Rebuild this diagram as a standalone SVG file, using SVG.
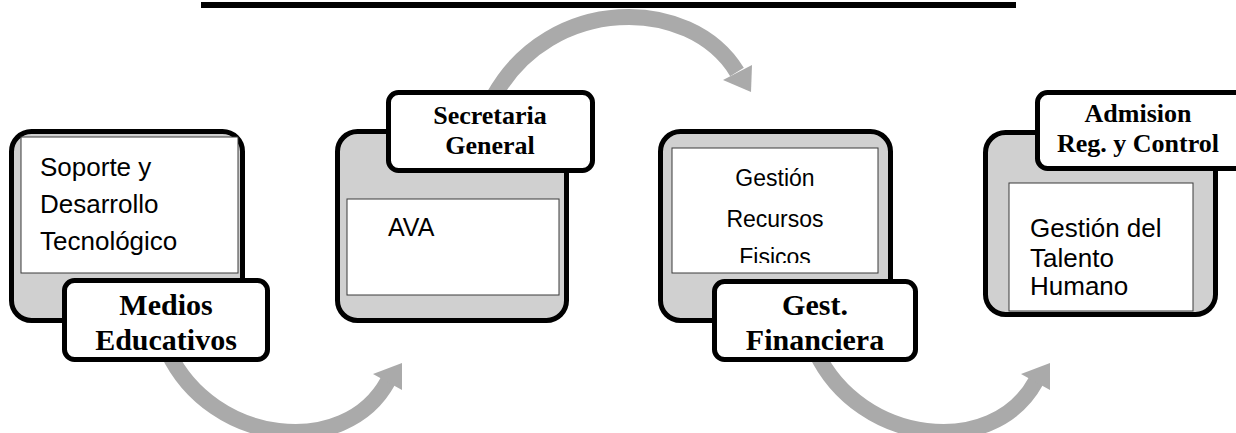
<svg xmlns="http://www.w3.org/2000/svg" width="1236" height="433" viewBox="0 0 1236 433">
<style>
.outer{fill:#d0d0d0;stroke:#000;stroke-width:5}
.inner{fill:#fff;stroke:#3a3a3a;stroke-width:1}
.lbl{fill:#fff;stroke:#000;stroke-width:5}
.body{font-family:"Liberation Sans",Arial,sans-serif;fill:#000}
.head{font-family:"Liberation Serif","Times New Roman",serif;font-weight:bold;fill:#000;text-anchor:middle}
.band{fill:none;stroke:#aaaaaa;stroke-width:16}
.tip{fill:#aaaaaa}
</style>
<defs>
<clipPath id="clip3"><rect x="672" y="148" width="206" height="115"/></clipPath>
</defs>
<rect x="201" y="2" width="815" height="6" fill="#000"/>
<g id="connectors">
<path class="band" d="M168,352 C 212,445 345,460 388,381"/>
<polygon class="tip" points="402,363 373,374 402,390"/>
<path class="band" d="M494,96 C 550,-5 690,-5 737,72"/>
<polygon class="tip" points="752,65 723,80 751,92"/>
<path class="band" d="M816,352 C 860,445 993,460 1036,381"/>
<polygon class="tip" points="1050,363 1021,374 1050,390"/>
</g>
<g id="node1">
<rect class="outer" x="11.5" y="131.5" width="231" height="189" rx="20"/>
<rect class="inner" x="21" y="137" width="217" height="136"/>
<text class="body" font-size="26" x="40" y="176">Soporte y</text>
<text class="body" font-size="26" x="40" y="213">Desarrollo</text>
<text class="body" font-size="26" x="40" y="250">Tecnológico</text>
<rect class="lbl" x="64.5" y="280.5" width="203" height="79" rx="10"/>
<text class="head" font-size="30" x="166" y="315">Medios</text>
<text class="head" font-size="30" x="166" y="350">Educativos</text>
</g>
<g id="node2">
<rect class="outer" x="337.5" y="131.5" width="229" height="189" rx="20"/>
<rect class="inner" x="347" y="199" width="212" height="96"/>
<text class="body" font-size="25" x="388" y="236">AVA</text>
<rect class="lbl" x="388.5" y="92.5" width="204" height="78" rx="10"/>
<text class="head" font-size="26" x="490" y="124">Secretaria</text>
<text class="head" font-size="26" x="490" y="154">General</text>
</g>
<g id="node3">
<rect class="outer" x="660.5" y="131.5" width="230" height="189" rx="20"/>
<rect class="inner" x="672" y="148" width="206" height="125"/>
<g clip-path="url(#clip3)">
<text class="body" font-size="23" x="775" y="186" text-anchor="middle">Gestión</text>
<text class="body" font-size="23" x="775" y="227" text-anchor="middle">Recursos</text>
<text class="body" font-size="23" x="775" y="265" text-anchor="middle">Fisicos</text>
</g>
<rect class="lbl" x="714.5" y="281.5" width="201" height="78" rx="10"/>
<text class="head" font-size="30" x="815" y="315">Gest.</text>
<text class="head" font-size="30" x="815" y="350">Financiera</text>
</g>
<g id="node4">
<rect class="outer" x="985.5" y="132.5" width="230" height="182" rx="20"/>
<rect class="inner" x="1009" y="183" width="184" height="128"/>
<text class="body" font-size="26" x="1030" y="237">Gestión del</text>
<text class="body" font-size="26" x="1030" y="267">Talento</text>
<text class="body" font-size="26" x="1030" y="295">Humano</text>
<rect class="lbl" x="1037.5" y="92.5" width="210" height="76" rx="10"/>
<text class="head" font-size="26" x="1138" y="122">Admision</text>
<text class="head" font-size="26" x="1138" y="152">Reg. y Control</text>
</g>
</svg>
